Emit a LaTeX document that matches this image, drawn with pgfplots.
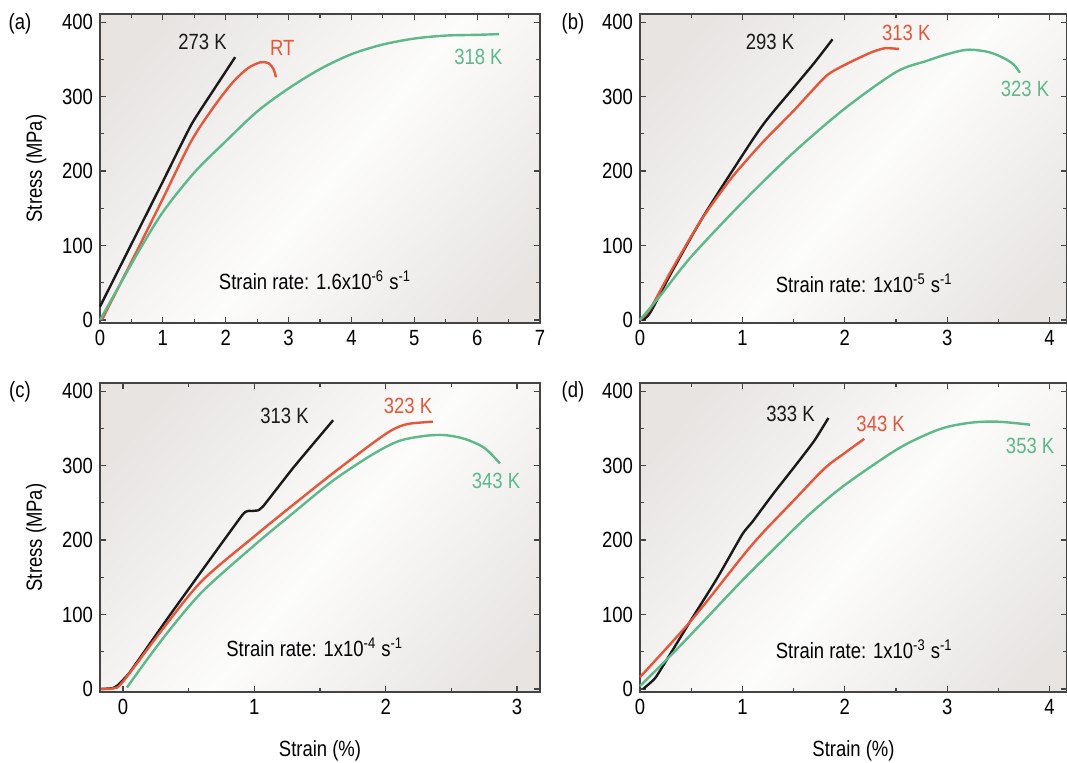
\documentclass[border=0pt]{standalone}
\usepackage{pgfplots}
\pgfplotsset{compat=1.18}
\usepackage{fontspec}
\setmainfont{Liberation Sans}[FakeStretch=0.84]
\definecolor{cred}{HTML}{E4573B}
\definecolor{cgreen}{HTML}{5DB98A}
\definecolor{cblack}{HTML}{1A1A1A}
\definecolor{bggray}{HTML}{E7E4E2}
\definecolor{bgwhite}{HTML}{FCFCFB}
\definecolor{axgray}{HTML}{444444}
\pgfdeclarehorizontalshading{diagband}{100bp}{color(0bp)=(bggray); color(22bp)=(bggray); color(52bp)=(bgwhite); color(80bp)=(bggray); color(100bp)=(bggray)}
\tikzset{lbl/.style={font=\fontsize{11}{13}\selectfont, inner sep=0pt}}
\pgfplotsset{
  panel/.style={
    scale only axis,
    height=154.5pt,
    ymin=-4, ymax=411,
    ytick={0,100,200,300,400},
    minor ytick={50,150,250,350},
    tick align=inside,
    major tick length=3pt,
    minor tick length=2pt,
    every tick/.style={axgray, line width=0.6pt},
    axis line style={axgray, line width=0.8pt},
    tick label style={font=\fontsize{11}{13}\selectfont, text=black},
    label style={font=\fontsize{11}{13}\selectfont},
    /pgf/number format/assume math mode=true,
    axis background/.style={shade, shading=diagband, shading angle=-40},
    every axis plot/.append style={line width=1.2pt, no marks, smooth, tension=0.5, line join=round},
    clip=false,
  },
}
\begin{document}
\begin{tikzpicture}
\useasboundingbox (0,0) rectangle (533.5pt,381.5pt);
% (a)
\begin{axis}[panel, at={(50pt,220pt)}, anchor=south west, width=220pt,
  xmin=0, xmax=7, xtick={0,1,2,3,4,5,6,7}, minor xtick={0.5,1.5,2.5,3.5,4.5,5.5,6.5},
  ylabel={Stress (MPa)}, ylabel style={yshift=1pt}]
\addplot[cblack, tension=0.3] coordinates {(0,18) (0.5,102) (1.0,186) (1.45,262) (1.8,308) (2.15,353)};
\addplot[cred] coordinates {(0.03,0) (0.3,45) (0.6,95) (1.0,163) (1.45,240) (1.8,285) (2.1,318) (2.35,338) (2.55,346) (2.68,345) (2.76,337) (2.8,326)};
\addplot[cgreen] coordinates {(0,0) (0.3,45) (0.6,90) (1.0,145) (1.5,198) (2.0,240) (2.5,280) (3.0,311) (3.5,337) (4.0,357) (4.5,370) (5.0,378) (5.5,382) (6.0,383) (6.35,384)};
\node[lbl, text=cblack] at (axis cs:1.63,373) {273 K};
\node[lbl, text=cred] at (axis cs:2.9,366) {RT};
\node[lbl, text=cgreen] at (axis cs:6.02,353) {318 K};
\node[lbl] at (axis cs:3.42,54) {Strain rate: 1.6x10\textsuperscript{-6} s\textsuperscript{-1}};
\end{axis}
% (b)
\begin{axis}[panel, at={(320pt,220pt)}, anchor=south west, width=213.5pt,
  xmin=0, xmax=4.17, xtick={0,1,2,3,4}, minor xtick={0.5,1.5,2.5,3.5}]
\addplot[cblack] coordinates {(0.02,0) (0.1,10) (0.3,62) (0.6,135) (0.9,200) (1.2,262) (1.5,312) (1.7,345) (1.88,377)};
\addplot[cred, tension=0.35] coordinates {(0,0) (0.1,15) (0.3,65) (0.6,135) (0.9,192) (1.2,239) (1.5,281) (1.82,328) (2.02,344) (2.25,359) (2.39,365) (2.53,364)};
\addplot[cgreen] coordinates {(0,0) (0.2,33) (0.5,85) (1.0,158) (1.5,225) (2.0,284) (2.5,333) (2.8,348) (3.0,357) (3.2,363) (3.4,360) (3.55,352) (3.65,343) (3.71,332)};
\node[lbl, text=cblack] at (axis cs:1.27,373) {293 K};
\node[lbl, text=cred] at (axis cs:2.6,385) {313 K};
\node[lbl, text=cgreen] at (axis cs:3.76,310) {323 K};
\node[lbl] at (axis cs:2.19,49) {Strain rate: 1x10\textsuperscript{-5} s\textsuperscript{-1}};
\end{axis}
% (c)
\begin{axis}[panel, at={(50pt,35.5pt)}, anchor=south west, width=220pt,
  xmin=-0.175, xmax=3.175, xtick={0,1,2,3}, minor xtick={0.5,1.5,2.5},
  ylabel={Stress (MPa)}, ylabel style={yshift=1pt}, xlabel={Strain (\%)}, xlabel style={yshift=-6pt}]
\addplot[cblack, tension=0.2] coordinates {(-0.17,0) (-0.08,1) (-0.04,5) (0.05,22) (0.36,100) (0.91,234) (0.98,239) (1.03,240) (1.07,246) (1.3,298) (1.6,361)};
\addplot[cred] coordinates {(-0.17,0) (-0.07,1) (0,10) (0.3,80) (0.6,145) (1.0,205) (1.3,248) (1.6,290) (1.9,330) (2.05,348) (2.17,356) (2.36,359)};
\addplot[cgreen] coordinates {(0.03,2) (0.3,67) (0.6,130) (1.0,193) (1.3,237) (1.6,280) (1.9,315) (2.1,333) (2.3,340) (2.45,341) (2.6,336) (2.75,324) (2.87,303)};
\node[lbl, text=cblack] at (axis cs:1.23,367) {313 K};
\node[lbl, text=cred] at (axis cs:2.17,380) {323 K};
\node[lbl, text=cgreen] at (axis cs:2.84,280) {343 K};
\node[lbl] at (axis cs:1.46,56) {Strain rate: 1x10\textsuperscript{-4} s\textsuperscript{-1}};
\end{axis}
% (d)
\begin{axis}[panel, at={(320pt,35.5pt)}, anchor=south west, width=213.5pt,
  xmin=0, xmax=4.17, xtick={0,1,2,3,4}, minor xtick={0.5,1.5,2.5,3.5},
  xlabel={Strain (\%)}, xlabel style={yshift=-6pt}]
\addplot[cblack, tension=0.3] coordinates {(0.03,0) (0.15,15) (0.3,48) (0.5,93) (0.75,148) (1.0,208) (1.1,225) (1.3,262) (1.5,297) (1.7,333) (1.84,364)};
\addplot[cred] coordinates {(0,16) (0.5,92) (1.0,178) (1.2,210) (1.5,253) (1.8,296) (2.0,317) (2.19,336)};
\addplot[cgreen] coordinates {(0,4) (0.3,45) (0.6,88) (1.0,146) (1.3,187) (1.65,234) (2.0,274) (2.5,321) (2.8,342) (3.0,352) (3.25,358) (3.5,359) (3.81,355)};
\node[lbl, text=cblack] at (axis cs:1.47,369) {333 K};
\node[lbl, text=cred] at (axis cs:2.35,356) {343 K};
\node[lbl, text=cgreen] at (axis cs:3.81,327) {353 K};
\node[lbl] at (axis cs:2.19,53) {Strain rate: 1x10\textsuperscript{-3} s\textsuperscript{-1}};
\end{axis}
\node[lbl] at (10pt,369.5pt) {(a)};
\node[lbl] at (286.5pt,369.5pt) {(b)};
\node[lbl] at (10pt,185.5pt) {(c)};
\node[lbl] at (286.5pt,185.5pt) {(d)};
\end{tikzpicture}
\end{document}
